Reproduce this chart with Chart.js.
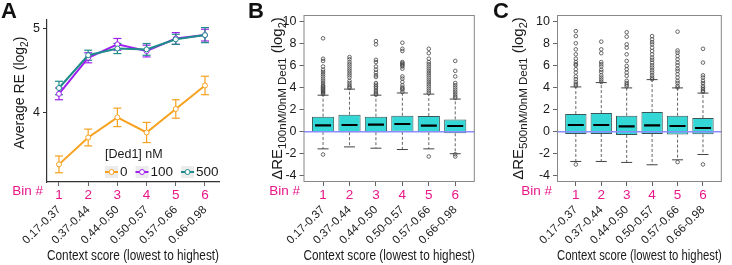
<!DOCTYPE html>
<html><head><meta charset="utf-8">
<script src="https://cdn.jsdelivr.net/npm/chart.js@4/dist/chart.umd.min.js"></script>
<style>
body{margin:0;background:#fff;width:732px;height:265px;position:relative;overflow:hidden;font-family:'Liberation Sans',Arial,sans-serif}
canvas{position:absolute;top:0}
.lt{position:absolute;font-weight:bold;font-size:22px;line-height:22px;color:#111;top:0}
</style></head><body>
<canvas id="cA" width="240" height="265" style="left:0px"></canvas>
<canvas id="cB" width="245" height="265" style="left:240px"></canvas>
<canvas id="cC" width="247" height="265" style="left:485px"></canvas>
<div class="lt" style="left:1px">A</div>
<div class="lt" style="left:248px">B</div>
<div class="lt" style="left:493px">C</div>
<script>
// ---------- data ----------
const bins = [1, 2, 3, 4, 5, 6];
const categories = ['0.17-0.37', '0.37-0.44', '0.44-0.50', '0.50-0.57', '0.57-0.66', '0.66-0.98'];
const seriesNames = ['0', '100', '500'];
const re0 = [3.38, 3.70, 3.94, 3.76, 4.04, 4.32];
const err0 = [0.10, 0.10, 0.11, 0.12, 0.11, 0.11];
const re100 = [4.22, 4.65, 4.81, 4.73, 4.88, 4.92];
const err100 = [0.07, 0.06, 0.07, 0.07, 0.07, 0.07];
const re500 = [4.29, 4.68, 4.76, 4.75, 4.87, 4.92];
const err500 = [0.08, 0.06, 0.06, 0.07, 0.06, 0.09];
const yTicksA = [4, 5];
const yTicksBox = [-4, -2, 0, 2, 4, 6, 8, 10];

const bQ1 = [-0.03, -0.05, -0.05, -0.02, -0.05, -0.15];
const bMed = [0.57, 0.60, 0.63, 0.69, 0.54, 0.51];
const bQ3 = [1.35, 1.53, 1.35, 1.44, 1.41, 1.11];
const bLo = [-1.56, -1.38, -1.50, -1.62, -1.56, -2.00];
const bHi = [3.30, 3.85, 3.30, 3.50, 3.40, 2.95];
const bOutLo = [[-2.07], [], [], [], [-2.25], [-2.05, -2.25]];
const bOutHi = [
  [8.45, 6.6, 6.4, 5.9, 5.6, 5.4, 5.2, 5.0, 4.8, 4.6, 4.4, 4.2, 4.1, 4.0, 3.9, 3.8, 3.7, 3.6, 3.5, 3.4],
  [6.75, 6.55, 6.3, 6.1, 5.9, 5.7, 5.5, 5.3, 5.1, 4.9, 4.6, 4.4, 4.2, 4.05, 3.95],
  [8.2, 7.9, 6.5, 6.3, 5.9, 5.6, 5.35, 5.1, 4.95, 4.4, 4.25, 4.1, 3.95, 3.75, 3.6, 3.45, 3.35],
  [8.05, 7.5, 7.3, 6.3, 6.2, 6.1, 6.0, 5.9, 5.7, 5.0, 4.8, 4.5, 4.2, 4.0, 3.9, 3.8, 3.6],
  [7.5, 7.1, 6.6, 6.3, 6.1, 5.9, 5.7, 5.5, 5.3, 5.1, 4.9, 4.7, 4.5, 4.3, 4.1, 3.9, 3.7, 3.5],
  [6.4, 5.5, 5.0, 4.4, 4.2, 4.0, 3.8, 3.6, 3.4, 3.2, 3.05]
];

const cQ1 = [-0.21, -0.21, -0.30, -0.21, -0.27, -0.24];
const cMed = [0.60, 0.60, 0.48, 0.57, 0.51, 0.33];
const cQ3 = [1.59, 1.68, 1.44, 1.77, 1.44, 1.23];
const cLo = [-2.70, -2.70, -2.79, -3.00, -2.55, -2.07];
const cHi = [4.05, 4.44, 3.96, 4.71, 3.96, 3.49];
const cOutLo = [[-2.97], [], [], [], [-2.76], [-2.97]];
const cOutHi = [
  [9.1, 8.65, 8.0, 7.45, 7.0, 6.6, 6.3, 6.1, 6.0, 5.65, 5.35, 5.0, 4.75, 4.5, 4.3, 4.15],
  [8.15, 7.45, 7.1, 6.3, 6.1, 5.9, 5.6, 5.4, 5.1, 4.9, 4.7, 4.5],
  [9.0, 8.6, 7.9, 7.6, 7.0, 6.4, 5.95, 5.65, 5.35, 5.05, 4.6, 4.4, 4.25, 4.1],
  [8.65, 8.35, 8.1, 7.9, 7.6, 7.3, 7.0, 6.7, 6.5, 6.25, 6.0, 5.8, 5.55, 5.35, 5.1, 4.9, 4.75],
  [9.05, 7.35, 7.15, 6.85, 6.55, 6.25, 6.0, 5.7, 5.5, 5.2, 4.9, 4.6, 4.4, 4.15, 4.0],
  [7.5, 6.25, 5.1, 4.9, 4.6, 4.4, 4.15, 4.0, 3.85, 3.7, 3.6]
];

// ---------- helpers ----------
const FONT = '"Liberation Sans", Arial, sans-serif';
const TXT = '#1a1a1a';
const MAG = '#E8178A';
Chart.defaults.font.family = FONT;
Chart.defaults.color = TXT;

function drawRich(ctx, runs, cx, cy) {
  ctx.save();
  ctx.translate(cx, cy);
  ctx.rotate(-Math.PI / 2);
  let total = 0;
  runs.forEach(r => { ctx.font = r.size + 'px ' + FONT; r.w = ctx.measureText(r.t).width; total += r.w; });
  let x = -total / 2;
  ctx.textBaseline = 'alphabetic';
  ctx.textAlign = 'left';
  ctx.fillStyle = TXT;
  runs.forEach(r => { ctx.font = r.size + 'px ' + FONT; ctx.fillText(r.t, x, r.dy || 0); x += r.w; });
  ctx.restore();
}

function textPlugin(cfg) {
  return {
    id: 'txt' + Math.random().toString(36).slice(2),
    afterDraw(chart) {
      const ctx = chart.ctx;
      ctx.save();
      ctx.font = '13.5px ' + FONT;
      ctx.fillStyle = MAG;
      ctx.textAlign = 'right';
      ctx.textBaseline = 'middle';
      ctx.fillText('Bin #', cfg.binX, cfg.binY);
      ctx.restore();
      drawRich(ctx, cfg.title, cfg.titleX, cfg.titleY != null ? cfg.titleY : (chart.chartArea.top + chart.chartArea.bottom) / 2);
    }
  };
}

function xScales(min, max, x2Height) {
  return {
    x: {
      type: 'linear', min: min, max: max, position: 'bottom', weight: 0, offset: false,
      afterBuildTicks: s => { s.ticks = bins.map(v => ({ value: v })); },
      ticks: { callback: v => String(v), color: MAG, font: { size: 13.5 }, padding: 1, maxRotation: 0, minRotation: 0, autoSkip: false },
      grid: { display: true, drawOnChartArea: false, drawTicks: true, tickLength: 4, color: '#666', offset: false },
      border: { display: false },
      afterFit: s => { s.height = 18; }
    },
    x2: {
      type: 'linear', min: min, max: max, position: 'bottom', weight: 1, offset: false,
      afterBuildTicks: s => { s.ticks = bins.map(v => ({ value: v })); },
      ticks: { callback: v => categories[v - 1], color: TXT, font: { size: 11.5 }, padding: 3, maxRotation: 45, minRotation: 45, autoSkip: false },
      grid: { display: false, drawTicks: false },
      border: { display: false },
      title: { display: true, text: 'Context score (lowest to highest)', color: TXT, font: { size: 14 }, padding: { top: 0, bottom: 0 } },
      afterFit: s => { s.height = x2Height; }
    }
  };
}

// ---------- Panel A ----------
(function () {
  const colors = ['#F7A11E', '#A020F0', '#1E8C8A'];
  const vals = [re0, re100, re500];
  const errs = [err0, err100, err500];
  const datasets = [];
  vals.forEach((v, k) => {
    const seg = [];
    const caps = [];
    bins.forEach((b, i) => {
      seg.push({ x: b, y: v[i] - errs[k][i] }, { x: b, y: v[i] + errs[k][i] }, { x: b, y: null });
      caps.push({ x: b, y: v[i] - errs[k][i] }, { x: b, y: v[i] + errs[k][i] });
    });
    datasets.push({ type: 'line', label: '_e' + k, data: seg, borderColor: colors[k], borderWidth: 1.2, pointRadius: 0, spanGaps: false, order: 10 - k });
    datasets.push({ type: 'scatter', label: '_c' + k, data: caps, pointStyle: 'line', pointRadius: 4, borderColor: colors[k], borderWidth: 1.2, order: 10 - k });
    datasets.push({ type: 'line', label: seriesNames[k], data: bins.map((b, i) => ({ x: b, y: v[i] })), borderColor: colors[k], borderWidth: 2, pointRadius: 2.5, pointBackgroundColor: '#fff', pointBorderColor: colors[k], pointBorderWidth: 1, order: 5 - k });
  });

  const legendPlugin = {
    id: 'legA',
    afterDraw(chart) {
      const ctx = chart.ctx;
      ctx.save();
      ctx.font = '12.5px ' + FONT;
      ctx.fillStyle = TXT;
      ctx.textBaseline = 'middle';
      ctx.textAlign = 'left';
      ctx.fillText('[Ded1] nM', 105, 155);
      let x = 105;
      const y = 172;
      seriesNames.forEach((n, k) => {
        ctx.fillStyle = '#ECECEC';
        ctx.fillRect(x, y - 6, 13, 12);
        ctx.strokeStyle = colors[k];
        ctx.lineWidth = 2;
        ctx.beginPath(); ctx.moveTo(x, y); ctx.lineTo(x + 13, y); ctx.stroke();
        ctx.fillStyle = '#fff';
        ctx.lineWidth = 1;
        ctx.beginPath(); ctx.arc(x + 6.5, y, 2.5, 0, Math.PI * 2); ctx.fill(); ctx.stroke();
        ctx.fillStyle = TXT;
        ctx.font = '13.5px ' + FONT;
        ctx.fillText(n, x + 15, y + 0.5);
        x += 15 + ctx.measureText(n).width + 8;
      });
      ctx.restore();
    }
  };

  const sc = xScales(0.59, 6.48, 65);
  sc.x.border = { display: true, color: '#333', width: 1.2 };
  sc.y = {
    type: 'linear', min: 3.17, max: 5.1,
    afterBuildTicks: s => { s.ticks = yTicksA.map(v => ({ value: v })); },
    ticks: { font: { size: 12.5 }, color: TXT, padding: 3 },
    grid: { drawOnChartArea: false, tickLength: 4, color: '#333' },
    border: { display: true, color: '#333', width: 1.2 },
    afterFit: s => { s.width = 47; }
  };

  new Chart(document.getElementById('cA'), {
    type: 'line',
    data: { datasets },
    options: {
      responsive: false, animation: false, devicePixelRatio: 1,
      layout: { padding: { top: 20, right: 21, left: 0, bottom: 0 } },
      plugins: { legend: { display: false }, tooltip: { enabled: false } },
      scales: sc
    },
    plugins: [legendPlugin, textPlugin({
      binX: 43, binY: 191, titleX: 24, titleY: 93,
      title: [{ t: 'Average RE (log', size: 14 }, { t: '2', size: 10, dy: 4 }, { t: ')', size: 14 }]
    })]
  });
})();

// ---------- Box panels ----------
function boxChart(id, st, canvasLeft, frameLeft, frameRight, canvasW, sub, titleX, binX) {
  const wh = [], caps = [], meds = [], outs = [];
  bins.forEach((b, i) => {
    wh.push({ x: b, y: st.q3[i] }, { x: b, y: st.hi[i] }, { x: b, y: null }, { x: b, y: st.q1[i] }, { x: b, y: st.lo[i] }, { x: b, y: null });
    caps.push({ x: b, y: st.hi[i] }, { x: b, y: st.lo[i] });
    meds.push({ x: b, y: st.med[i] });
    st.outHi[i].forEach(v => outs.push({ x: b, y: v }));
    st.outLo[i].forEach(v => outs.push({ x: b, y: v }));
  });
  const datasets = [
    { type: 'line', data: wh, borderColor: '#555', borderWidth: 0.9, borderDash: [3, 2], pointRadius: 0, spanGaps: false, order: 6 },
    { type: 'bar', data: bins.map((b, i) => ({ x: b, y: [st.q1[i], st.q3[i]] })), backgroundColor: '#33D8D6', borderColor: '#3A5656', borderWidth: 1, borderSkipped: false, barPercentage: 0.84, categoryPercentage: 1, order: 5 },
    { type: 'scatter', data: caps, pointStyle: 'line', pointRadius: 5.5, borderColor: '#444', borderWidth: 1, order: 4 },
    { type: 'scatter', data: meds, pointStyle: 'line', pointRadius: 8, borderColor: '#000', borderWidth: 2.2, order: 3 },
    { type: 'scatter', data: outs, pointStyle: 'circle', pointRadius: 1.8, borderColor: '#444', borderWidth: 0.8, backgroundColor: 'rgba(0,0,0,0)', order: 2 }
  ];
  const framePlugin = {
    id: 'frame' + id,
    afterDatasetsDraw(chart) {
      const ctx = chart.ctx, a = chart.chartArea, y = chart.scales.y.getPixelForValue(0);
      ctx.save();
      ctx.strokeStyle = '#8C8CFF';
      ctx.lineWidth = 1.5;
      ctx.beginPath(); ctx.moveTo(a.left, y); ctx.lineTo(a.right, y); ctx.stroke();
      ctx.strokeStyle = '#888';
      ctx.lineWidth = 1;
      ctx.strokeRect(a.left + 0.5, a.top + 0.5, a.right - a.left - 1, a.bottom - a.top - 1);
      ctx.restore();
    }
  };
  const sc = xScales(0.26, 6.74, 65);
  sc.y = {
    type: 'linear', min: -4.56, max: 10.56,
    afterBuildTicks: s => { s.ticks = yTicksBox.map(v => ({ value: v })); },
    ticks: { font: { size: 12.5 }, color: TXT, padding: 3 },
    grid: { drawOnChartArea: false, tickLength: 4, color: '#666' },
    border: { display: false },
    afterFit: s => { s.width = frameLeft - canvasLeft; }
  };
  new Chart(document.getElementById(id), {
    type: 'bar',
    data: { datasets },
    options: {
      responsive: false, animation: false, devicePixelRatio: 1,
      layout: { padding: { top: 15, right: canvasW - (frameRight - canvasLeft), left: 0, bottom: 0 } },
      plugins: { legend: { display: false }, tooltip: { enabled: false } },
      scales: sc
    },
    plugins: [framePlugin, textPlugin({
      binX: binX, binY: 191, titleX: titleX, titleY: null,
      title: [{ t: '\u0394RE', size: 15 }, { t: sub, size: 11.5, dy: 4 }, { t: ' (log', size: 15 }, { t: '2', size: 11, dy: 4 }, { t: ')', size: 15 }]
    })]
  });
}

boxChart('cB', { q1: bQ1, med: bMed, q3: bQ3, lo: bLo, hi: bHi, outLo: bOutLo, outHi: bOutHi }, 240, 303.5, 475, 245, '100nM/0nM Ded1', 42, 60);
boxChart('cC', { q1: cQ1, med: cMed, q3: cQ3, lo: cLo, hi: cHi, outLo: cOutLo, outHi: cOutHi }, 485, 557, 726.5, 247, '500nM/0nM Ded1', 38, 67);
</script>
</body></html>
